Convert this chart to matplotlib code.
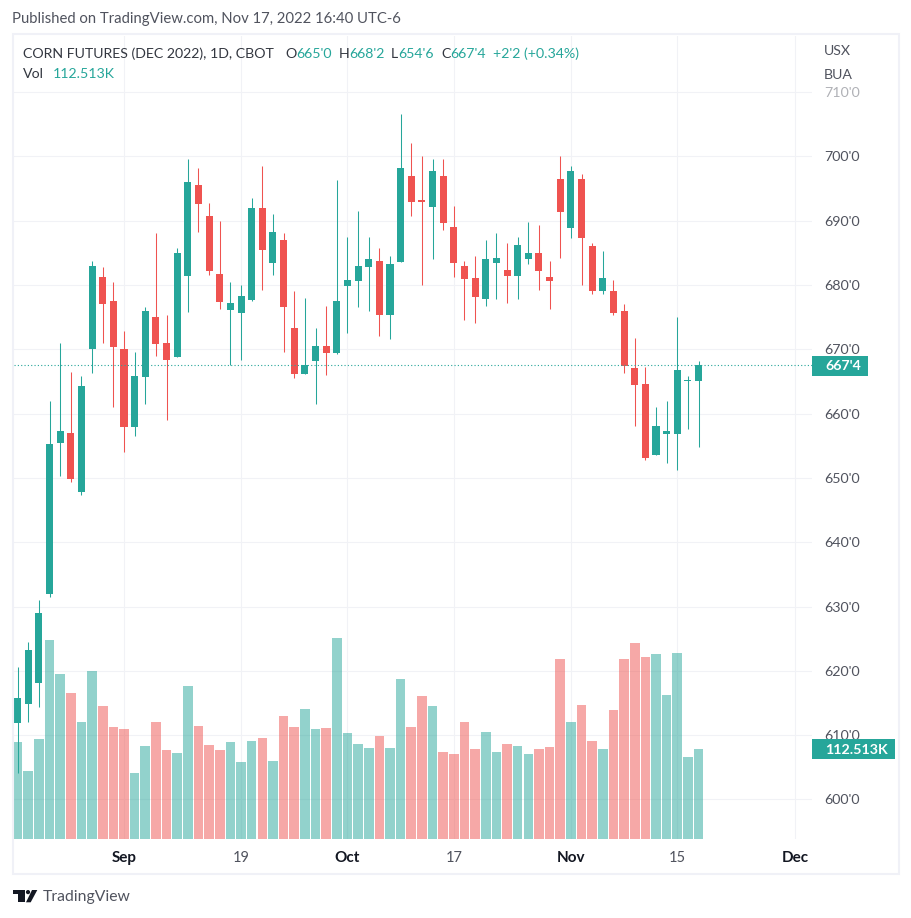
import matplotlib
matplotlib.use("Agg")
import matplotlib.pyplot as plt
from matplotlib.patches import Rectangle, Circle, Polygon

plt.rcParams['font.family'] = ['Lato', 'DejaVu Sans']

opens = [611.9, 614.8, 618.15, 631.9, 655.4, 657.0, 647.8, 670.0, 681.2, 677.5,
         670.0, 657.9, 665.7, 675.0, 671.0, 668.8, 681.4, 695.5, 690.7, 681.7,
         676.1, 675.6, 677.7, 692.0, 683.4, 687.0, 673.3, 666.2, 668.2, 670.5,
         669.4, 679.8, 680.6, 682.8, 683.7, 675.3, 683.6, 697.0, 693.2, 692.1,
         697.0, 689.0, 683.0, 681.1, 677.8, 683.4, 682.3, 681.4, 684.0, 685.0,
         681.2, 696.5, 688.9, 696.5, 686.1, 679.1, 679.1, 676.0, 667.1, 664.6,
         653.6, 656.8, 656.8, 665.1, 665.0]
closes = [615.8, 623.2, 629.0, 655.3, 657.3, 649.8, 664.3, 683.0, 677.0, 670.4,
          657.9, 665.8, 676.0, 670.8, 668.3, 685.0, 696.0, 692.6, 682.2, 677.4,
          677.2, 678.3, 692.0, 685.4, 688.2, 676.6, 666.2, 667.6, 670.5, 669.4,
          677.5, 680.8, 683.0, 684.0, 675.3, 683.3, 698.2, 692.9, 692.9, 697.7,
          689.6, 683.4, 680.9, 678.1, 684.0, 684.2, 681.4, 686.2, 685.0, 682.2,
          680.6, 691.35, 697.7, 687.3, 679.1, 681.1, 675.6, 667.4, 664.4, 653.1,
          658.1, 657.3, 666.8, 665.2, 667.5]
highs = [620.6, 624.5, 631.0, 662.0, 671.0, 666.5, 665.8, 683.7, 682.8, 680.5,
         672.8, 669.6, 676.6, 688.1, 675.3, 685.8, 699.6, 698.2, 692.75, 690.0,
         680.5, 680.0, 693.5, 698.5, 691.0, 688.1, 679.1, 678.0, 673.3, 676.7,
         696.3, 687.5, 691.5, 687.5, 685.8, 684.5, 706.6, 702.1, 700.1, 699.6,
         699.6, 692.3, 683.7, 684.5, 687.0, 688.1, 686.5, 687.5, 689.8, 689.3,
         683.7, 700.1, 698.5, 697.3, 686.5, 685.3, 680.8, 677.0, 671.75, 667.2,
         661.0, 662.0, 675.0, 665.8, 668.25]
lows = [604.15, 612.0, 614.4, 631.4, 650.3, 649.4, 647.3, 666.3, 671.0, 661.0,
        654.0, 656.5, 661.5, 669.0, 659.0, 668.8, 675.8, 688.2, 681.5, 676.3,
        667.6, 668.3, 677.5, 679.2, 681.5, 669.6, 665.5, 666.2, 661.5, 666.0,
        669.3, 672.5, 676.6, 676.0, 672.1, 671.6, 683.6, 690.7, 680.0, 684.0,
        688.6, 681.2, 674.6, 674.1, 676.7, 677.8, 677.2, 677.8, 683.3, 679.2,
        676.3, 684.2, 687.3, 680.0, 678.6, 678.6, 675.3, 666.3, 658.1, 652.8,
        653.6, 652.3, 651.2, 657.6, 654.75]
volumes_k = [121.3, 85.0, 125.0, 248.8, 206.3, 182.5, 146.3, 210.0, 166.3, 140.0,
             137.5, 82.5, 116.3, 146.3, 111.3, 107.5, 191.3, 141.3, 117.5, 111.3,
             121.3, 96.3, 122.5, 126.3, 97.5, 153.8, 140.0, 162.5, 137.5, 138.8,
             251.3, 132.5, 118.8, 113.8, 128.8, 113.8, 200.0, 140.0, 178.8, 166.3,
             108.8, 106.3, 146.3, 112.5, 133.8, 108.8, 118.8, 116.3, 106.3, 112.5,
             115.0, 225.0, 146.3, 167.5, 122.5, 112.5, 161.3, 225.0, 245.0, 227.5,
             231.3, 180.0, 232.5, 102.5, 112.513]
price_ticks = [600, 610, 620, 630, 640, 650, 660, 670, 680, 690, 700, 710]
time_tick_idx = [10, 21, 31, 41, 52, 62, 73.1]
time_tick_labels = ['Sep', '19', 'Oct', '17', 'Nov', '15', 'Dec']
month_labels = {'Sep', 'Oct', 'Nov', 'Dec'}
last_price = 667.5

GREEN = '#26a69a'
RED = '#ef5350'
GRID = '#f1f2f6'
BORDER = '#f0f1f7'
TXT = '#131722'
AXTXT = '#50535e'
LEG = '#333740'

W, H = 912, 918
L_PX, R_PX, T_PX, B_PX = 14, 812, 36, 839
X0, STEP = 17.6, 10.64
Y700, PX_PER_UNIT = 156.4, 6.43
K_PER_PX = 1.25

fig = plt.figure(figsize=(W / 100, H / 100), dpi=100, facecolor='white')
rect = [L_PX / W, 1 - B_PX / H, (R_PX - L_PX) / W, (B_PX - T_PX) / H]

xlim = ((L_PX - X0) / STEP, (R_PX - X0) / STEP)
ylim = (700 - (B_PX - Y700) / PX_PER_UNIT, 700 - (T_PX - Y700) / PX_PER_UNIT)

# grid + axis labels
ax = fig.add_axes(rect, zorder=1)
ax.set_xlim(xlim)
ax.set_ylim(ylim)
for s in ax.spines.values():
    s.set_visible(False)
ax.yaxis.tick_right()
ax.set_yticks(price_ticks)
ax.set_yticklabels([f"{p}'0" for p in price_ticks])
ax.set_xticks(time_tick_idx)
ax.set_xticklabels(time_tick_labels)
ax.tick_params(axis='y', length=0, pad=9, labelsize=10.3, labelcolor=AXTXT)
ax.tick_params(axis='x', length=0, pad=8.5, labelsize=10.5, labelcolor=AXTXT)
ax.grid(True, color=GRID, lw=0.8)
ax.set_axisbelow(True)
for lab in ax.get_xticklabels():
    if lab.get_text() in month_labels:
        lab.set_fontweight('bold')
        lab.set_fontsize(11)
        lab.set_color(TXT)
for lab in ax.get_yticklabels():
    if lab.get_text() == "710'0":
        lab.set_alpha(0.45)

# volume
ax_vol = fig.add_axes(rect, zorder=2, sharex=ax)
ax_vol.patch.set_visible(False)
ax_vol.axis('off')
ax_vol.set_ylim(0, (B_PX - T_PX) * K_PER_PX)
idx = list(range(len(opens)))
cols = [GREEN if c >= o else RED for o, c in zip(opens, closes)]
ax_vol.bar(idx, volumes_k, width=0.9, color=cols, alpha=0.5, linewidth=0)

# candles
ax_c = fig.add_axes(rect, zorder=3, sharex=ax)
ax_c.patch.set_visible(False)
ax_c.axis('off')
ax_c.set_ylim(ylim)
ax_c.vlines(idx, lows, highs, colors=cols, linewidth=0.75)
ax_c.bar(idx, [abs(c - o) for o, c in zip(opens, closes)],
         bottom=[min(o, c) for o, c in zip(opens, closes)],
         width=0.66, color=cols, linewidth=0)
ax_c.axhline(last_price, color=GREEN, lw=0.8, ls=(0, (1, 2)))
ax_c.set_xlim(xlim)

# pixel overlay for furniture
ov = fig.add_axes([0, 0, 1, 1], zorder=4)
ov.set_xlim(0, W)
ov.set_ylim(H, 0)
ov.axis('off')
ov.patch.set_visible(False)
ov.add_patch(Rectangle((13, 34.3), 885.8, 839.7, fill=False, ec=BORDER, lw=1.5))


def t(x, y, s, size=10, color=TXT, **kw):
    ov.text(x, y, s, fontsize=size, color=color, va='center', ha=kw.pop('ha', 'left'), **kw)


t(12, 19.5, 'Published on TradingView.com, Nov 17, 2022 16:40 UTC-6', 10.7, AXTXT)
t(23, 54, 'CORN FUTURES (DEC 2022), 1D, CBOT', 10.2, LEG)
for x, s, c in [(285, 'O', LEG), (296, "665'0", GREEN), (339, 'H', LEG), (349, "668'2", GREEN),
                (391, 'L', LEG), (398.5, "654'6", GREEN), (441, 'C', LEG), (450.5, "667'4", GREEN),
                (493.5, "+2'2 (+0.34%)", GREEN)]:
    t(x, 54, s, 10.2, c)
t(23, 74, 'Vol', 10.2, LEG)
t(53, 74, '112.513K', 10.2, GREEN)
t(824, 51, 'USX', 10.2, AXTXT)
t(824, 75, 'BUA', 10.2, AXTXT)

ov.add_patch(Rectangle((812, 356), 56, 20, fc=GREEN, ec='none'))
t(825, 366, "667'4", 10.2, 'white', fontweight='bold')
ov.add_patch(Rectangle((812, 739), 83, 20, fc=GREEN, ec='none'))
t(825, 749.5, '112.513K', 10.3, 'white', fontweight='bold')

# TradingView logo
LOGO = '#131722'
ov.add_patch(Polygon([(12.7, 890), (24.7, 890), (24.7, 902.3), (18, 902.3), (18, 894), (12.7, 894)], fc=LOGO, ec='none'))
ov.add_patch(Circle((28, 892.1), 2.1, fc=LOGO, ec='none'))
ov.add_patch(Polygon([(32, 890), (37.3, 890), (30.7, 902.3), (26, 902.3)], fc=LOGO, ec='none'))
t(42.5, 896.5, 'TradingView', 11.3, AXTXT)

fig.savefig('out.png', dpi=100)
